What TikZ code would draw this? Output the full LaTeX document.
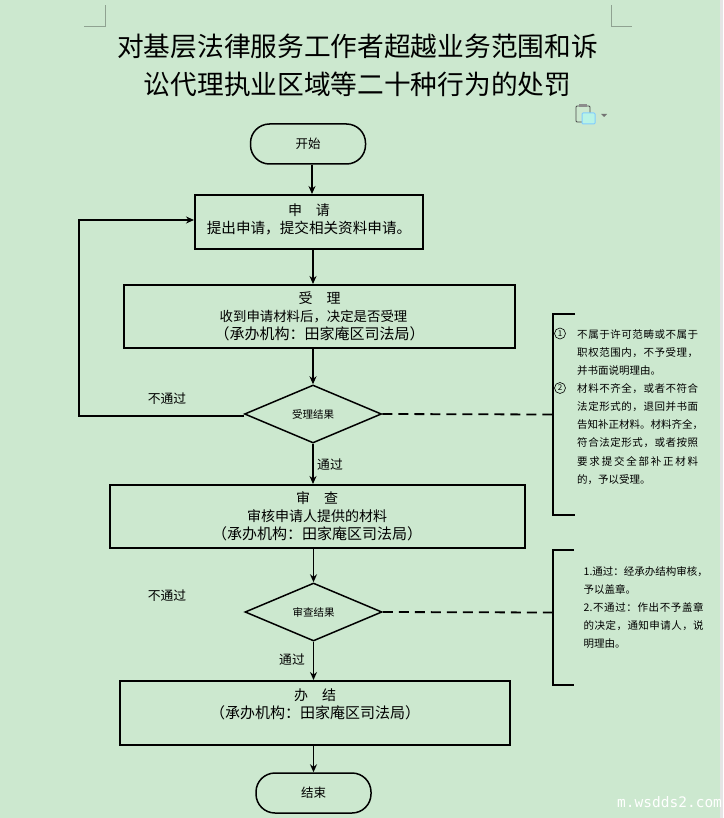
\documentclass[tikz,border=0pt]{standalone}
\usepackage{fontspec}
\setmainfont{Noto Sans CJK SC}
\newfontfamily\monof{DejaVu Sans Mono}
\usetikzlibrary{shapes.geometric,arrows.meta}
\definecolor{bgc}{HTML}{CCE8CF}
\newcommand{\sline}[2]{\makebox[#1pt][s]{#2}}
\newcommand{\orgline}{{\fontsize{15}{18}\selectfont（承办机构：田家庵区司法局）}}
\tikzset{
 box/.style={draw,line width=2pt,minimum height=#1,align=center,inner sep=0pt,font=\fontsize{14}{18}\selectfont},
 term/.style={draw,line width=1.5pt,rounded corners=19pt,minimum height=40pt,inner sep=0pt,font=\fontsize{12.5}{14}\selectfont},
 dia/.style={draw,line width=1.5pt,diamond,aspect=2.35,inner sep=0pt,font=\fontsize{10.5}{12}\selectfont},
 flow/.style={line width=1.6pt,-{Stealth[length=8pt,width=7pt]}},
 lab/.style={font=\fontsize{12.8}{14}\selectfont},
 note/.style={anchor=north west,align=left,font=\fontsize{10.5}{18.15}\selectfont,inner sep=0pt},
 brk/.style={line width=2.2pt},
 dashc/.style={line width=1.8pt,dash pattern=on 10pt off 6pt},
 crop/.style={line width=.6pt,color=black!30!bgc}
}
\begin{document}
\begin{tikzpicture}[x=1pt,y=-1pt]
\path[use as bounding box,fill=bgc] (0,0) rectangle (723,818);
\fill[black!10] (720,0) rectangle (723,818);
\draw[crop] (84,26)--(105,26)--(105,5);
\draw[crop] (611,5)--(611,26)--(632,26);
\node[font=\fontsize{26.7}{38}\selectfont,align=center,inner sep=0pt] (title) at (357.5,65.5) {对基层法律服务工作者超越业务范围和诉\\讼代理执业区域等二十种行为的处罚};
% paste icon
\draw[line width=.9pt,color=black!70,rounded corners=1pt] (576,106) rectangle (590,122);
\fill[black!45] (579,104.5) rectangle (587,107.5);
\draw[line width=1pt,color=blue!40!cyan!50!white,fill=bgc!75!cyan!70!white,rounded corners=1pt] (582,113) rectangle (595,124);
\fill[black!55] (601,114)--(607,114)--(604,117)--cycle;
% nodes
\node[term,minimum width=115pt] (start) at (308,144) {开始};
\node[box=54pt,minimum width=228pt] (apply) at (309,222) {申\quad 请\\{\fontsize{14.6}{18}\selectfont 提出申请，提交相关资料申请。}\\[-12pt]\mbox{}};
\node[box=63pt,minimum width=391pt] (accept) at (319.5,316.5) {受\quad 理\\{\fontsize{13.4}{18}\selectfont 收到申请材料后，决定是否受理}\mbox{\kern12pt}\\\orgline};
\node[dia,minimum width=137pt,minimum height=58pt] (d1) at (313,414) {受理结果};
\node[box=63pt,minimum width=415pt] (review) at (317,516.5) {审\quad 查\\审核申请人提供的材料\\\orgline};
\node[dia,minimum width=137pt,minimum height=58pt] (d2) at (313.5,612) {审查结果};
\node[box=64pt,minimum width=390pt] (done) at (315,713) {办\quad 结\\\orgline\\\mbox{}};
\node[term,minimum width=115pt] (end) at (313.5,793) {结束};
% flow
\draw[flow] (start.south -| 312,0) -- (apply.north -| 312,0);
\draw[flow] (apply.south -| 313,0) -- (accept.north -| 313,0);
\draw[flow] (accept.south -| d1.north) -- (d1.north);
\draw[flow] (d1.south) -- (review.north -| d1.south);
\draw[flow] (review.south -| d2.north) -- (d2.north);
\draw[flow] (d2.south) -- (done.north -| d2.south);
\draw[flow] (done.south -| end.north) -- (end.north);
\coordinate (fbstart) at (244,415.5);
\draw[flow,line width=2pt] (fbstart) -- (79,415.5) -- (79,220) -- (apply.west |- 0,220);
\node[lab] (l1) at (167,399) {不通过};
\node[lab] (l2) at (330,465) {通过};
\node[lab] (l3) at (167,596) {不通过};
\node[lab] (l4) at (292,660) {通过};
% brackets
\coordinate (b1t) at (575,314);\coordinate (b1c) at (553,414.5);
\coordinate (b2t) at (574,550);\coordinate (b2c) at (553,612.5);
\draw[dashc] (d1.east) -- (b1c);
\draw[dashc] (d2.east) -- (b2c);
\draw[brk] (b1t) -- (553,314) -- (553,515) -- (575,515);
\draw[brk] (b2t) -- (553,550) -- (553,685) -- (574,685);
% notes
\node[note] (n1) at (577,329) {\sline{121}{不\hfill 属\hfill 于\hfill 许\hfill 可\hfill 范\hfill 畴\hfill 或\hfill 不\hfill 属\hfill 于}\\
\sline{121}{职\hfill 权\hfill 范\hfill 围\hfill 内\hfill ，\hfill 不\hfill 予\hfill 受\hfill 理\hfill ，}\\
\sline{77}{并\hfill 书\hfill 面\hfill 说\hfill 明\hfill 理\hfill 由\hfill 。}\\
\sline{121}{材\hfill 料\hfill 不\hfill 齐\hfill 全\hfill ，\hfill 或\hfill 者\hfill 不\hfill 符\hfill 合}\\
\sline{121}{法\hfill 定\hfill 形\hfill 式\hfill 的\hfill ，\hfill 退\hfill 回\hfill 并\hfill 书\hfill 面}\\
\sline{121}{告\hfill 知\hfill 补\hfill 正\hfill 材\hfill 料\hfill 。\hfill 材\hfill 料\hfill 齐\hfill 全\hfill ，}\\
\sline{121}{符\hfill 合\hfill 法\hfill 定\hfill 形\hfill 式\hfill ，\hfill 或\hfill 者\hfill 按\hfill 照}\\
\sline{121}{要\hfill 求\hfill 提\hfill 交\hfill 全\hfill 部\hfill 补\hfill 正\hfill 材\hfill 料}\\
\sline{66}{的\hfill ，\hfill 予\hfill 以\hfill 受\hfill 理\hfill 。}};
\node[draw,circle,line width=.6pt,inner sep=0pt,minimum size=11pt,font=\fontsize{8}{8}\selectfont] (c1) at (560,333.5) {1};
\node[draw,circle,line width=.6pt,inner sep=0pt,minimum size=11pt,font=\fontsize{8}{8}\selectfont] (c2) at (560,388) {2};
\node[note] (n2) at (583.5,566) {\sline{120}{1.\hfill 通\hfill 过\hfill ：\hfill 经\hfill 承\hfill 办\hfill 结\hfill 构\hfill 审\hfill 核\hfill ，}\\
\sline{47}{予\hfill 以\hfill 盖\hfill 章\hfill 。}\\
\sline{120}{2.\hfill 不\hfill 通\hfill 过\hfill ：\hfill 作\hfill 出\hfill 不\hfill 予\hfill 盖\hfill 章}\\
\sline{120}{的\hfill 决\hfill 定\hfill ，\hfill 通\hfill 知\hfill 申\hfill 请\hfill 人\hfill ，\hfill 说}\\
\sline{36}{明\hfill 理\hfill 由\hfill 。}};
\node[font=\monof\fontsize{14.5}{16}\selectfont,anchor=west,inner sep=0pt,color=white] (wm) at (617,802) {m.wsdds2.com};
\end{tikzpicture}
\end{document}
